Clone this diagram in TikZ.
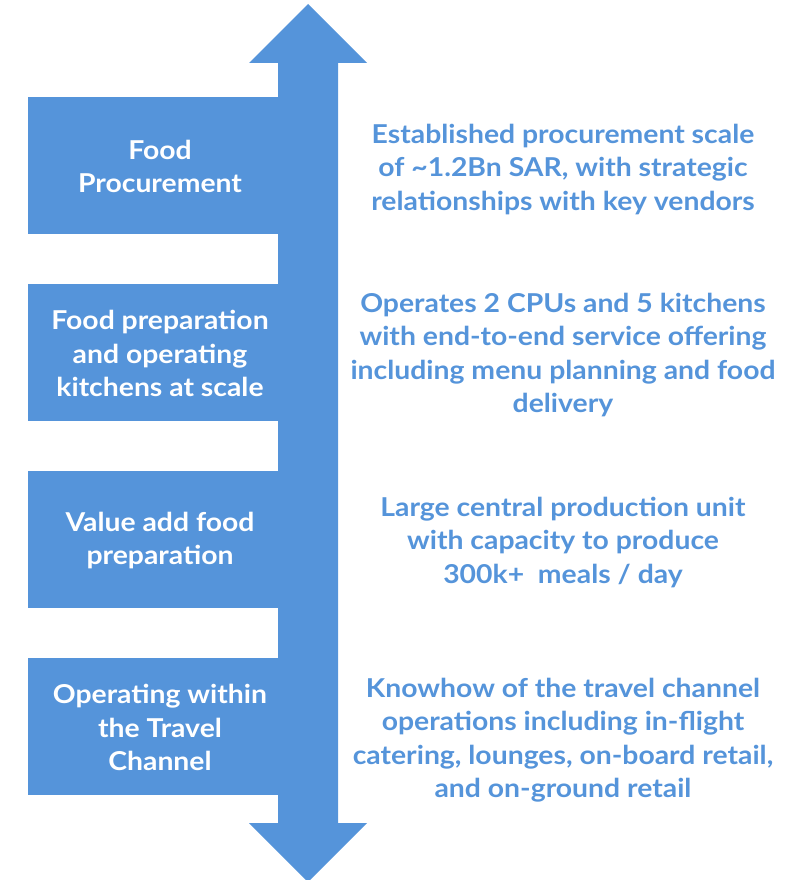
\documentclass[tikz,border=0pt]{standalone}
\usepackage{fontspec}
\setmainfont{Lato}[FakeStretch=1.09]
\definecolor{mblue}{RGB}{85,148,218}
\tikzset{
  box/.style={fill=mblue, draw=none, minimum width=250pt, minimum height=137pt, inner sep=0pt},
  boxtext/.style={text=white, align=center, inner sep=0pt, font=\fontsize{26}{33.5}\selectfont\bfseries},
  desc/.style={text=mblue, align=center, inner sep=0pt, font=\fontsize{26}{33.5}\selectfont\bfseries},
}
\begin{document}
\begin{tikzpicture}[x=1pt,y=-1pt]
\useasboundingbox (0,0) rectangle (803,880);
% double-headed arrow
\fill[mblue] (308,4) -- (367,63) -- (338,63) -- (338,823) -- (367,823) -- (308,882)
  -- (249,823) -- (278,823) -- (278,63) -- (249,63) -- cycle;
% boxes
\node[box] (b1) at (153,165.5) {};
\node[box] (b2) at (153,352.5) {};
\node[box] (b3) at (153,539.5) {};
\node[box] (b4) at (153,726.5) {};
\node[boxtext] (t1) at (160,166.5) {Food\\Procurement};
\node[boxtext] (t2) at (160,353.5) {Food preparation\\and operating\\kitchens at scale};
\node[boxtext] (t3) at (160,540.5) {Value add food\\preparation};
\node[boxtext] (t4) at (160,727.5) {Operating within\\the Travel\\Channel};
% descriptions
\node[desc] (d1) at (563,169.5) {Established procurement scale\\of \textasciitilde1.2Bn SAR, with strategic\\relationships with key vendors};
\node[desc] (d2) at (563,355) {Operates 2 CPUs and 5 kitchens\\with end-to-end service offering\\including menu planning and food\\delivery};
\node[desc] (d3) at (563,542.5) {Large central production unit\\with capacity to produce\\300k+\ \ meals / day};
\node[desc] (d4) at (563,740) {Knowhow of the travel channel\\operations including in-flight\\catering, lounges, on-board retail,\\and on-ground retail};
\end{tikzpicture}
\end{document}
